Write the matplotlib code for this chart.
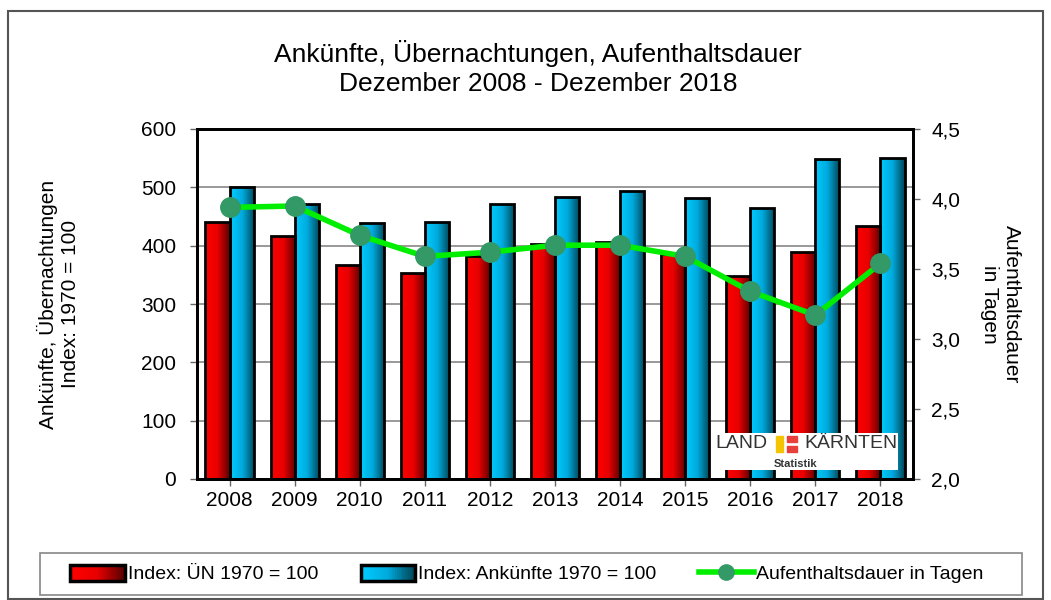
import matplotlib.pyplot as plt
import numpy as np
from matplotlib.colors import LinearSegmentedColormap
from matplotlib.legend_handler import HandlerBase
from matplotlib.lines import Line2D
from matplotlib.patches import Patch, Rectangle

plt.rcParams['font.family'] = ['Liberation Sans', 'DejaVu Sans']

jahre = ['2008', '2009', '2010', '2011', '2012', '2013', '2014', '2015', '2016', '2017', '2018']
index_un = [440, 417, 367, 353, 382, 402, 406, 386, 348, 389, 434]
index_ank = [500, 472, 439, 440, 472, 483, 494, 482, 465, 549, 550]
dauer = [3.94, 3.95, 3.74, 3.59, 3.62, 3.67, 3.67, 3.59, 3.34, 3.17, 3.54]

red_cmap = LinearSegmentedColormap.from_list('r', ['#ff0000', '#e80000', '#5a0000'])
blue_cmap = LinearSegmentedColormap.from_list('b', ['#00ccff', '#00aadd', '#004455'])

fig = plt.figure(figsize=(10.51, 6), dpi=100)
ax = fig.add_axes([197 / 1051, 1 - 479 / 600, (913 - 197) / 1051, 350 / 600])
ax2 = ax.twinx()

x = np.arange(len(jahre))
w = 0.37
grad = np.linspace(0, 1, 256).reshape(1, -1)
fs = 15


def gradient_bars(xs, heights, cmap):
    bars = ax.bar(xs, heights, width=w, color='none', edgecolor='black', linewidth=2, zorder=3)
    for b in bars:
        x0, y0 = b.get_x(), b.get_y()
        im = ax.imshow(grad, cmap=cmap, aspect='auto', zorder=2,
                       extent=[x0, x0 + b.get_width(), y0, y0 + b.get_height()])
        im.set_clip_path(b)
    return bars


gradient_bars(x - w / 2, index_un, red_cmap)
gradient_bars(x + w / 2, index_ank, blue_cmap)

ax.set_xlim(-0.5, len(jahre) - 0.5)
ax.set_ylim(0, 600)
ax.set_yticks(range(0, 601, 100))
ax.set_xticks(x)
ax.set_xticklabels(jahre)
ax.grid(axis='y', color='#888888', linewidth=1.2, zorder=0)
ax.set_axisbelow(True)
for s in ax.spines.values():
    s.set_linewidth(2)
ax.tick_params(labelsize=fs, length=5, width=1, color='#666666')
ax.tick_params(axis='y', pad=10)
ax.set_ylabel('Ankünfte, Übernachtungen\nIndex: 1970 = 100', fontsize=fs, labelpad=44)

ax2.plot(x, dauer, color='#00ee00', linewidth=4, marker='o', markersize=14,
         markerfacecolor='#339966', markeredgecolor='#339966', zorder=5)
ax2.set_ylim(2.0, 4.5)
ax2.set_yticks(np.arange(2.0, 4.51, 0.5))
ax2.set_yticklabels([f'{v:.1f}'.replace('.', ',') for v in np.arange(2.0, 4.51, 0.5)])
ax2.tick_params(labelsize=fs, length=5, width=1, color='#666666', pad=8)
ax2.set_ylabel('Aufenthaltsdauer\nin Tagen', fontsize=fs, rotation=-90, labelpad=44)
for s in ax2.spines.values():
    s.set_linewidth(2)

fig.text(538 / 1051, 1 - 68 / 600, 'Ankünfte, Übernachtungen, Aufenthaltsdauer\nDezember 2008 - Dezember 2018',
         ha='center', va='center', fontsize=19, linespacing=1.25)

# Logo
def ax_x(px):
    return (px - 197) / 716


def ax_y(py):
    return (479 - py) / 350


ax.add_patch(Rectangle((ax_x(712), ax_y(470)), ax_x(898) - ax_x(712), ax_y(433) - ax_y(470),
                       transform=ax.transAxes, facecolor='white', edgecolor='none', zorder=6))
ax.text(ax_x(715), ax_y(444), 'LAND', transform=ax.transAxes, ha='left', va='center',
        fontsize=14, color='#333333', zorder=7)
ax.text(ax_x(897), ax_y(444), 'KÄRNTEN', transform=ax.transAxes, ha='right', va='center',
        fontsize=14, color='#333333', zorder=7)
ax.add_patch(Rectangle((ax_x(776), ax_y(452)), ax_x(783) - ax_x(776), ax_y(436) - ax_y(452),
                       transform=ax.transAxes, color='#f5c400', zorder=7))
ax.add_patch(Rectangle((ax_x(787), ax_y(442)), ax_x(797) - ax_x(787), ax_y(436) - ax_y(442),
                       transform=ax.transAxes, color='#e8413c', zorder=7))
ax.add_patch(Rectangle((ax_x(787), ax_y(452)), ax_x(797) - ax_x(787), ax_y(446) - ax_y(452),
                       transform=ax.transAxes, color='#e8413c', zorder=7))
ax.text(ax_x(796), ax_y(464), 'Statistik', transform=ax.transAxes, ha='center', va='center',
        fontsize=8, fontweight='bold', color='#333333', zorder=7)


class GradientHandler(HandlerBase):
    def __init__(self, cmap):
        super().__init__()
        self.cmap = cmap

    def create_artists(self, legend, orig_handle, xdescent, ydescent, width, height, fontsize, trans):
        arts = []
        n = 30
        for i in range(n):
            arts.append(Rectangle((-xdescent + width * i / n, -ydescent), width / n + 0.3, height,
                                  facecolor=self.cmap(i / (n - 1)), edgecolor='none', transform=trans))
        arts.append(Rectangle((-xdescent, -ydescent), width, height, facecolor='none',
                              edgecolor='black', linewidth=2.5, transform=trans))
        return arts


h_red = Patch(facecolor='red')
h_blue = Patch(facecolor='blue')
h_line = Line2D([], [], color='#00ee00', linewidth=4, marker='o', markersize=11,
                markerfacecolor='#339966', markeredgecolor='#339966')
labels = ['Index: ÜN 1970 = 100', 'Index: Ankünfte 1970 = 100', 'Aufenthaltsdauer in Tagen']
leg = fig.legend([h_red, h_blue, h_line], labels, loc='center', bbox_to_anchor=(527 / 1051, 1 - 574 / 600),
                 ncol=3, fontsize=14, frameon=False,
                 handlelength=2.8, handleheight=0.9, handletextpad=0.15, columnspacing=2.2,
                 handler_map={h_red: GradientHandler(red_cmap), h_blue: GradientHandler(blue_cmap)})

# legend frame
fig.patches.append(Rectangle((40 / 1051, 1 - 595 / 600), 982 / 1051, 42 / 600,
                             transform=fig.transFigure, fill=False, edgecolor='#888888', linewidth=1.2))
# outer frame
fig.patches.append(Rectangle((8 / 1051, 0.002), 1 - 16 / 1051, 1 - 11 / 600 - 0.002,
                             transform=fig.transFigure, fill=False, edgecolor='#555555', linewidth=1.5))

fig.savefig('out.png', dpi=100)
